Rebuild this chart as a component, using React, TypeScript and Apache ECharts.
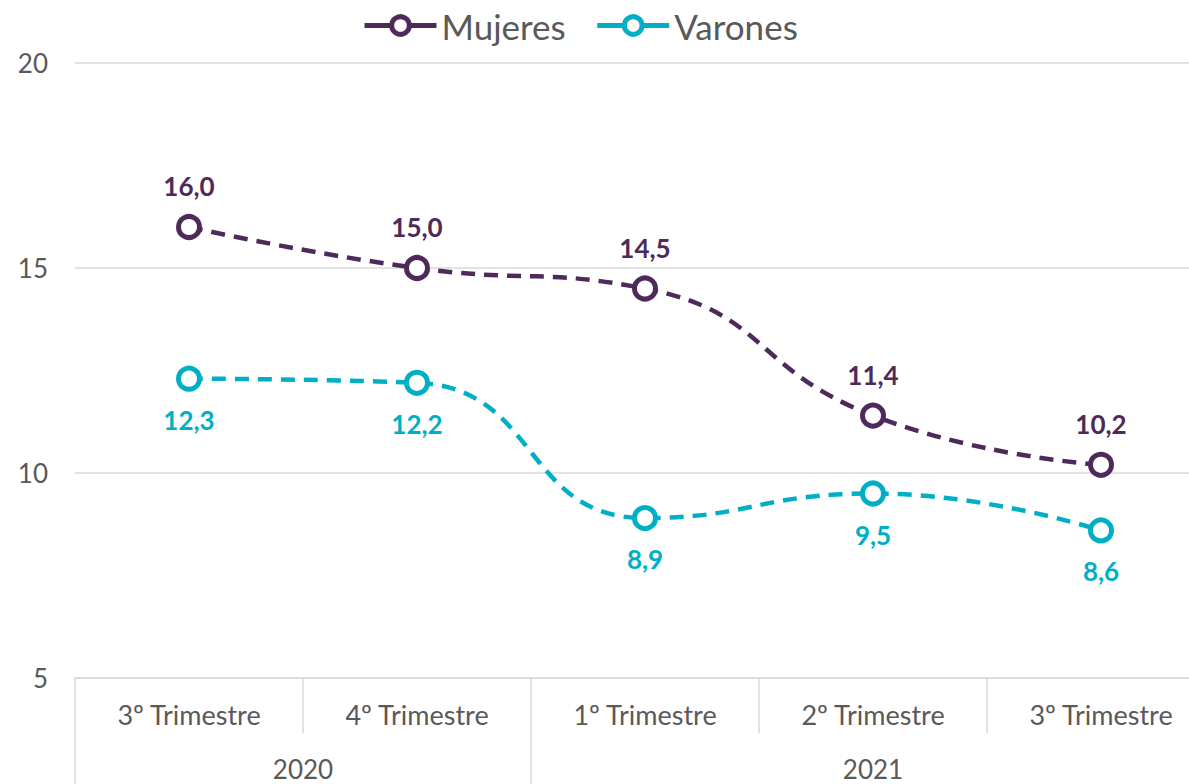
import React, { useEffect, useRef } from "react";
import * as echarts from "echarts";

const categories = ["3º Trimestre", "4º Trimestre", "1º Trimestre", "2º Trimestre", "3º Trimestre"];
const years = ["2020", "2021"];
const yearSpans = [2, 3];
const mujeres = [16.0, 15.0, 14.5, 11.4, 10.2];
const varones = [12.3, 12.2, 8.9, 9.5, 8.6];
const yTicks = [5, 10, 15, 20];

const MUJ = "#4E2A5A";
const VAR = "#00AFC5";
const TXT = "#595959";
const GRID = "#D9D9D9";
const FONT = "Lato, 'Open Sans', sans-serif";

export default function App() {
  const ref = useRef<HTMLDivElement>(null);
  useEffect(() => {
    if (!ref.current) return;
    const chart = echarts.init(ref.current, undefined, { renderer: "svg" });
    const bounds: number[] = [0];
    yearSpans.forEach((s, i) => bounds.push(bounds[i] + s));
    const centers = yearSpans.map((s, i) => bounds[i] + s / 2);
    const fmt = (v: number) => v.toFixed(1).replace(".", ",");
    const mkSeries = (name: string, data: number[], color: string, pos: "top" | "bottom") => ({
      name,
      type: "line",
      data,
      xAxisIndex: 0,
      smooth: 0.5,
      symbol: "circle",
      symbolSize: 21,
      itemStyle: { color: "#ffffff", borderColor: color, borderWidth: 5 },
      lineStyle: { color, width: 4.5, type: [14, 9] },
      label: {
        show: true,
        position: pos,
        distance: 15,
        formatter: (p: any) => fmt(p.value),
        color,
        fontFamily: FONT,
        fontWeight: "bold",
        fontSize: 26,
      },
      z: 3,
    });
    chart.setOption({
      animation: false,
      textStyle: { fontFamily: FONT },
      legend: {
        top: 3,
        left: 357,
        itemWidth: 72,
        itemHeight: 22,
        itemGap: 29,
        textStyle: { color: TXT, fontSize: 35, fontFamily: FONT },
        data: [
          { name: "Mujeres", itemStyle: { color: "#fff", borderColor: MUJ, borderWidth: 5 }, lineStyle: { color: MUJ, width: 5, type: "solid" } },
          { name: "Varones", itemStyle: { color: "#fff", borderColor: VAR, borderWidth: 5 }, lineStyle: { color: VAR, width: 5, type: "solid" } },
        ],
      },
      grid: { left: 75, top: 63, width: 1140, height: 615, containLabel: false },
      xAxis: [
        {
          type: "category",
          data: categories,
          boundaryGap: true,
          axisLine: { show: true, lineStyle: { color: GRID, width: 1.5 } },
          axisTick: { show: true, interval: 0, length: 55, lineStyle: { color: GRID, width: 1.5 } },
          axisLabel: { color: TXT, fontSize: 27, fontFamily: FONT, margin: 23, interval: 0 },
        },
        {
          type: "value",
          position: "bottom",
          offset: 55,
          min: 0,
          max: bounds[bounds.length - 1],
          axisLine: { show: false },
          splitLine: { show: false },
          axisTick: { show: true, customValues: bounds, length: 60, lineStyle: { color: GRID, width: 1.5 } },
          axisLabel: {
            show: true,
            customValues: centers,
            color: TXT,
            fontSize: 26,
            fontFamily: FONT,
            margin: 23,
            formatter: (v: number) => {
              const i = centers.findIndex((c) => Math.abs(c - v) < 1e-6);
              return i >= 0 ? years[i] : "";
            },
          },
        },
      ],
      yAxis: {
        type: "value",
        min: yTicks[0],
        max: yTicks[yTicks.length - 1],
        interval: 5,
        axisLine: { show: false },
        axisTick: { show: false },
        axisLabel: { color: TXT, fontSize: 26, fontFamily: FONT, margin: 27 },
        splitLine: { lineStyle: { color: GRID, width: 1.5 } },
      },
      series: [mkSeries("Mujeres", mujeres, MUJ, "top"), mkSeries("Varones", varones, VAR, "bottom")],
    });
    return () => chart.dispose();
  }, []);
  return (
    <div style={{ position: "fixed", left: 0, top: 0, width: 1189, height: 784, overflow: "hidden", background: "#fff" }}>
      <div ref={ref} style={{ width: 1240, height: 784 }} />
    </div>
  );
}
